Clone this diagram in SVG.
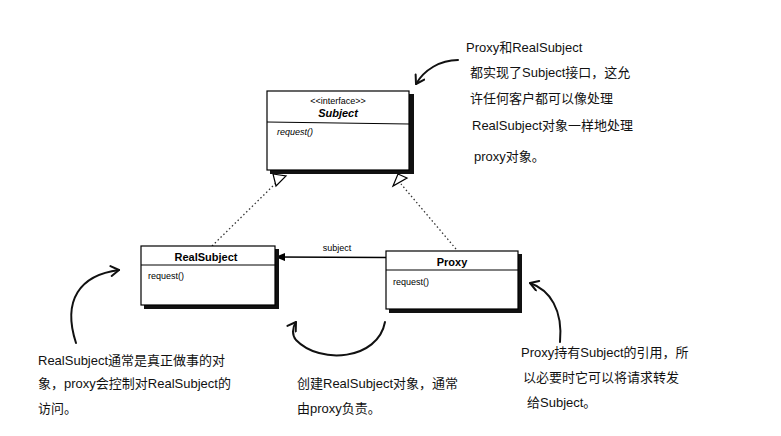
<svg xmlns="http://www.w3.org/2000/svg" width="781" height="436" viewBox="0 0 781 436">
<style>
.box{fill:#fff;stroke:#000;stroke-width:1.2}
.sh{fill:#111}
.t{font-family:"Liberation Sans",Arial,sans-serif;font-size:9px;fill:#000}
.b{font-weight:bold;font-size:11px}
.h{font-family:"Liberation Sans","Noto Sans CJK SC",sans-serif;font-size:13px;fill:#111}
.c{fill:none;stroke:#111;stroke-width:2;stroke-linecap:round}
.d{stroke:#333;stroke-width:1.3;stroke-dasharray:1.5 2.5;fill:none}
</style>
<defs>
<marker id="fa" markerWidth="10" markerHeight="8" refX="9" refY="4" orient="auto" markerUnits="userSpaceOnUse"><path d="M0,0 L10,4 L0,8 z" fill="#000"/></marker>
<marker id="oa" markerWidth="12" markerHeight="12" refX="10" refY="6" orient="auto" markerUnits="userSpaceOnUse"><path d="M10,6 L2,1 M10,6 L2,11" fill="none" stroke="#111" stroke-width="2" stroke-linecap="round"/></marker>
</defs>
<g id="connectors">
<path class="d" d="M212,246 L277,182"/>
<path class="d" d="M456,249 L401,184"/>
<path d="M273,174 L286,176 L276,186 z" fill="#fff" stroke="#000" stroke-width="1.2"/>
<path d="M393,186 L398,174 L407,178 z" fill="#fff" stroke="#000" stroke-width="1.2"/>
<path d="M386,257.5 L276,257" stroke="#000" stroke-width="1.6" marker-end="url(#fa)"/>
<text class="t" x="337" y="251" text-anchor="middle">subject</text>
</g>
<g id="Subject">
<rect class="sh" x="270" y="94" width="144" height="80"/>
<rect class="box" x="267" y="91" width="142" height="79"/>
<line x1="267" y1="122" x2="409" y2="124" stroke="#000"/>
<text class="t" x="338" y="104" text-anchor="middle">&lt;&lt;interface&gt;&gt;</text>
<text class="t b" x="338" y="117" text-anchor="middle" font-style="italic">Subject</text>
<text class="t" x="277" y="135" font-style="italic">request()</text>
</g>
<g id="RealSubject">
<rect class="sh" x="144" y="249" width="135" height="60"/>
<rect class="box" x="141" y="246" width="134" height="59"/>
<line x1="141" y1="265" x2="275" y2="265" stroke="#000"/>
<text class="t b" x="206" y="261" text-anchor="middle">RealSubject</text>
<text class="t" x="148" y="279">request()</text>
</g>
<g id="Proxy">
<rect class="sh" x="389" y="254" width="133" height="59"/>
<rect class="box" x="386" y="251" width="132" height="58"/>
<line x1="386" y1="270" x2="518" y2="270" stroke="#000"/>
<text class="t b" x="452" y="266" text-anchor="middle">Proxy</text>
<text class="t" x="393" y="285">request()</text>
</g>
<g id="annotations">
<path class="c" d="M458,60 C440,60 424,70 416,84" marker-end="url(#oa)"/>
<text class="h" x="466" y="52">Proxy和RealSubject</text>
<text class="h" x="470" y="77">都实现了Subject接口，这允</text>
<text class="h" x="470" y="103">许任何客户都可以像处理</text>
<text class="h" x="472" y="130">RealSubject对象一样地处理</text>
<text class="h" x="474" y="161">proxy对象。</text>
<path class="c" d="M76,343 C62,300 80,275 119,270" marker-end="url(#oa)"/>
<text class="h" x="38" y="365">RealSubject通常是真正做事的对</text>
<text class="h" x="38" y="388">象，proxy会控制对RealSubject的</text>
<text class="h" x="38" y="413">访问。</text>
<path class="c" d="M385,322 C378,360 320,365 296,340 C292,335 292,328 296,322" marker-end="url(#oa)"/>
<text class="h" x="297" y="388">创建RealSubject对象，通常</text>
<text class="h" x="297" y="413">由proxy负责。</text>
<path class="c" d="M560,342 C563,310 550,290 530,283" marker-end="url(#oa)"/>
<text class="h" x="521" y="357">Proxy持有Subject的引用，所</text>
<text class="h" x="523" y="382">以必要时它可以将请求转发</text>
<text class="h" x="527" y="407">给Subject。</text>
</g>
</svg>
